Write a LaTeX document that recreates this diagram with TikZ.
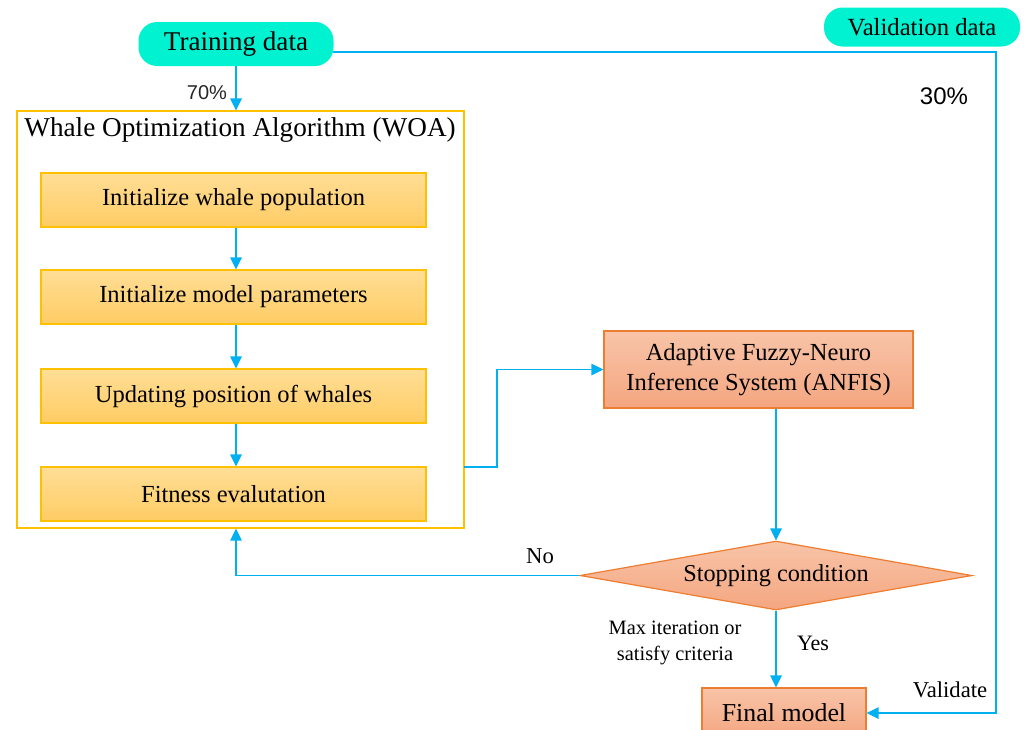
\documentclass[tikz,border=0pt]{standalone}
\usepackage{fontspec}
\setmainfont{Liberation Serif}
\newfontfamily\sansf{Liberation Sans}
\usetikzlibrary{arrows.meta,shapes.geometric}
\definecolor{lineblue}{RGB}{0,176,240}
\definecolor{pillc}{RGB}{0,242,208}
\definecolor{ybord}{RGB}{255,192,0}
\definecolor{ytop}{RGB}{255,222,150}
\definecolor{ybot}{RGB}{255,204,100}
\definecolor{obord}{RGB}{237,125,49}
\definecolor{otop}{RGB}{248,196,168}
\definecolor{obot}{RGB}{244,166,128}
\tikzset{
  conn/.style={draw=lineblue, line width=1.35pt},
  arr/.style={conn, -{Triangle[length=9pt,width=8.5pt]}},
  pill/.style={rounded corners=14pt, fill=pillc, draw=none, inner sep=0pt},
  stepbox/.style={draw=ybord, line width=0.9pt, top color=ytop, bottom color=ybot,
     minimum width=288.75pt, minimum height=40.5pt, inner sep=0pt, font=\fontsize{18.4}{22}\selectfont},
  obox/.style={draw=obord, line width=0.9pt, top color=otop, bottom color=obot, inner sep=0pt},
  lbl/.style={inner sep=0pt, font=\fontsize{17}{20}\selectfont}
}
\begin{document}
\begin{tikzpicture}[x=0.75pt,y=-0.75pt]
\useasboundingbox (0,0) rectangle (1027,729);
\clip (0,0) rectangle (1027,729);
% outer WOA box
\node[draw=ybord, line width=0.9pt, minimum width=335.25pt, minimum height=312.75pt, inner sep=0pt] (woa) at (240.5,319.5) {};
\node[inner sep=0pt, font=\fontsize{20.4}{24}\selectfont] (woat) at (240,130) {Whale Optimization Algorithm (WOA)};
% pills
\node[pill, minimum width=146.25pt, minimum height=33pt, font=\fontsize{20.3}{24}\selectfont] (train) at (236,44) {Training data};
\node[pill, minimum width=147pt, minimum height=29.25pt, font=\fontsize{18.5}{22}\selectfont] (valid) at (922,27) {Validation data};
% inner steps
\node[stepbox] (b1) at (233.5,200) {Initialize whale population};
\node[stepbox] (b2) at (233.5,297) {Initialize model parameters};
\node[stepbox] (b3) at (233.5,396) {Updating position of whales};
\node[stepbox] (b4) at (233.5,494) {Fitness evalutation};
% ANFIS
\node[obox, minimum width=231.75pt, minimum height=57.75pt, align=center, font=\fontsize{18.4}{22}\selectfont] (anfis) at (758.5,369.5) {Adaptive Fuzzy-Neuro\\Inference System (ANFIS)};
% diamond
\node[obox, diamond, aspect=5.7, minimum width=294pt, minimum height=51.75pt, font=\fontsize{18.2}{22}\selectfont] (stop) at (776,575.5) {Stopping condition};
% final
\node[obox, minimum width=123pt, minimum height=37.5pt, font=\fontsize{19.4}{23}\selectfont] (final) at (784,713) {Final model};
% labels
\node[lbl, font=\sansf\fontsize{15}{18}\selectfont, text=black!85] (p70) at (207,93) {70\%};
\node[lbl, font=\sansf\fontsize{18}{21}\selectfont] (p30) at (944,96) {30\%};
\node[lbl] (no) at (540,556) {No};
\node[lbl, font=\fontsize{16.5}{20}\selectfont] (yes) at (813,643) {Yes};
\node[lbl] (val) at (950,690) {Validate};
\node[lbl, align=center, font=\fontsize{15.3}{20}\selectfont] (crit) at (675,643) {Max iteration or\\satisfy criteria};
% coordinates
\coordinate (tout) at (333,52);
\coordinate (wout) at (464,467);
% connectors
\draw[arr] (train.south) -- (train.south |- woa.north);
\draw[arr] (b1.south -| train.south) -- (b2.north -| train.south);
\draw[arr] (b2.south -| train.south) -- (b3.north -| train.south);
\draw[arr] (b3.south -| train.south) -- (b4.north -| train.south);
\draw[arr] (wout) -- (497,467) |- (anfis.west);
\draw[arr] (anfis.south -| stop.north) -- (stop.north);
\draw[arr] (stop.west) -| (train.south |- woa.south);
\draw[arr] (stop.south) -- (stop.south |- final.north);
\draw[arr] (tout) -- (996,52) |- (final.east);
\end{tikzpicture}
\end{document}
